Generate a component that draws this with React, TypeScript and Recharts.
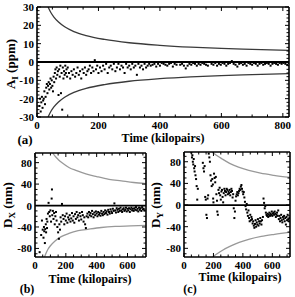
import { ComposedChart, XAxis, YAxis, Scatter, Line, ReferenceLine } from 'recharts'

// panel (a): A_I (ppm) vs time
const aPoints: [number, number][] = [
  [8, -24], [10, -20], [12, -27], [14, -22], [16, -19], [18, -25], [20, -21], [22, -20], [24, -16], [26, -23],
  [28, -19], [30, -14], [32, -12], [34, -17], [36, -13], [38, -11], [40, -15], [42, -12], [44, -9], [46, -14],
  [48, -10], [50, -13], [52, -16], [54, -8], [56, -11], [58, -6], [60, -4], [62, -9], [64, -3], [66, -7],
  [68, -5], [70, -18], [72, -4], [74, -8], [76, -2], [78, -17], [80, -6], [82, -26], [84, -3], [86, -9],
  [88, -5], [90, -7], [92, -2], [94, -6], [96, -4], [98, -8], [100, -3], [104, -6], [108, -9], [112, -5],
  [116, -7], [120, -4], [124, -8], [128, -6], [132, -3], [136, -7], [140, -5], [144, -9], [148, -4], [152, -6],
  [156, -3], [160, -7], [164, -5], [168, -4], [172, -2], [176, -6], [180, -3], [184, -5], [188, 1], [192, -4],
  [196, -2], [200, -6], [205, -3], [210, -5], [215, -2], [220, -4], [225, -1], [230, -6], [235, -3], [240, -2],
  [245, -4], [250, -1], [255, -5], [260, -3], [265, -1], [270, -4], [275, -2], [280, -3], [285, -6], [290, -1],
  [295, -3], [300, -2], [305, -4], [310, -1], [315, -3], [320, -2], [325, -7], [330, -1], [335, -3], [340, -2],
  [345, -4], [350, -1], [355, -3], [360, -2], [365, -1], [370, -2], [376, -1.5], [382, -1], [388, -2.5], [394, -1],
  [400, -2], [406, -0.5], [412, -1], [418, -1.5], [424, -2], [430, -1], [436, -0.5], [442, -2.5], [448, -1], [454, -1.5],
  [460, 0], [466, -1.5], [472, -1], [478, -2], [484, -3.5], [490, -2], [496, -1], [502, -1.5], [508, -0.5], [514, -1],
  [520, -2], [526, -1], [532, -1.5], [538, -0.5], [544, -1], [550, -1.5], [556, -2], [562, 0], [568, -1], [574, -1.5],
  [580, -0.5], [586, -2], [592, -1], [598, -1.5], [604, -0.5], [610, -1], [616, -2], [622, -1], [628, -0.5], [634, 0.5],
  [640, -1], [646, -1.5], [652, -2.5], [658, -1], [664, -0.5], [670, -1.5], [676, -1], [682, -2], [688, -0.5], [694, -1],
  [700, -1.5], [706, -0.5], [712, -1], [718, -2], [724, -1], [730, -0.5], [736, -1.5], [742, -1], [748, -0.5], [754, -1],
  [760, -2], [766, -1], [772, -0.5], [778, -1], [784, -1.5], [790, -0.5], [796, -1], [802, -0.5], [808, -1], [814, -1.5],
  [820, -0.5],
]
const aUpperT = [36, 45, 55, 70, 90, 120, 160, 220, 300, 400, 500, 600, 700, 825]
const aUpperY = [30, 27, 24.5, 21.8, 19.2, 16.6, 14.4, 12.3, 10.5, 9.1, 8.1, 7.4, 6.9, 6.3]
const aLowerT = [36, 45, 55, 70, 90, 120, 160, 220, 300, 400, 500, 600, 700, 825]
const aLowerY = [-30, -27, -24.5, -21.8, -19.2, -16.6, -14.4, -12.3, -10.5, -9.1, -8.1, -7.4, -6.9, -6.3]

// panel (b): D_X (nm)
const bPoints: [number, number][] = [
  [30, -87], [40, -55], [45, -28], [50, -45], [55, -60], [58, -40], [60, -48], [64, -70], [66, -44], [70, -35],
  [72, -50], [75, -25], [78, -42], [80, -30], [84, -15], [88, 5], [92, -12], [96, -20], [100, -9], [104, -30],
  [108, 13], [110, 30], [112, -18], [116, -10], [120, -25], [124, -14], [128, -35], [132, -20], [136, -12], [140, -28],
  [145, -40], [150, -50], [155, -62], [158, -35], [162, -45], [166, -22], [170, -30], [175, 3], [180, -18], [185, -25],
  [190, -35], [195, -20], [200, -28], [205, -15], [210, -32], [215, -22], [220, -26], [225, -18], [230, -30], [235, -24],
  [240, -14], [245, -28], [250, -20], [255, -32], [260, -16], [265, -25], [270, -12], [275, -22], [280, -18], [285, -28],
  [290, -14], [295, -20], [300, -26], [305, -12], [310, -18], [315, -30], [320, -22], [325, -35], [330, -42], [335, -20],
  [340, -15], [345, -22], [350, -12], [355, -18], [360, -14], [365, -20], [370, -10], [375, -16], [380, -22], [385, -13],
  [390, -18], [395, -11], [400, -15], [405, -20], [410, -12], [415, -17], [420, -14], [425, -19], [430, -10], [435, -15],
  [440, -18], [445, -12], [450, -16], [455, -9], [460, -14], [465, -11], [470, -17], [475, -8], [480, -12], [485, -15],
  [490, -7], [495, -11], [500, -14], [505, -6], [510, -10], [515, 4], [520, -9], [525, -13], [530, -5], [535, -8],
  [540, -12], [545, -6], [550, -10], [555, -4], [560, -9], [565, -12], [570, -7], [575, -5], [580, -10], [585, -8],
  [590, -4], [595, -11], [600, -6], [605, -9], [610, -5], [615, -12], [620, -7], [625, -4], [630, -9], [635, -6],
  [640, -10], [645, -5], [650, -8], [655, -3], [660, -9], [665, -6], [670, -11], [675, -4], [680, -8], [685, -5],
  [690, -10], [695, -3], [700, -7], [705, -6], [710, -9],
]
const bUpperT = [115, 130, 150, 180, 220, 270, 330, 400, 480, 560, 640, 720]
const bUpperY = [98, 92, 86, 79, 71, 65, 59, 54, 49, 46, 43, 41]
const bLowerT = [62, 70, 85, 100, 130, 170, 220, 280, 350, 430, 520, 620, 720]
const bLowerY = [-96, -90, -81, -75, -66, -58, -52, -47, -44, -41, -39, -38, -37]

// panel (c): D_Y (nm)
const cPoints: [number, number][] = [
  [50, 97], [54, 88], [57, 92], [60, 80], [63, 75], [66, 85], [69, 68], [72, 62], [75, 72], [78, 55],
  [82, 48], [86, 35], [90, 10], [94, 30], [128, 78], [132, 68], [136, 62], [140, 72], [144, 15], [148, 10],
  [152, -18], [156, -24], [160, 12], [164, 18], [168, 95], [172, 88], [176, 80], [180, 55], [184, 45], [188, 35],
  [192, 48], [196, 38], [198, 12], [200, 5], [204, 58], [208, 50], [212, 42], [216, 52], [220, 20], [224, 8],
  [226, -12], [230, -18], [234, 28], [238, 22], [242, 32], [246, 18], [250, 10], [254, 25], [258, 28], [262, 15],
  [266, 5], [270, 22], [274, 30], [278, 26], [282, 18], [286, 24], [290, 30], [294, 28], [298, 20], [302, 25],
  [306, 22], [310, 28], [314, 18], [318, 24], [322, 30], [326, 26], [330, 14], [334, 20], [338, -6], [342, -24],
  [346, -12], [350, 8], [354, 16], [358, 20], [362, 24], [366, 18], [370, 22], [374, 26], [378, 30], [382, 28],
  [386, 34], [390, 37], [394, 30], [398, 25], [402, 20], [406, 24], [410, 14], [414, 6], [418, -2], [422, -8],
  [426, 2], [430, -14], [434, -20], [438, -10], [442, -24], [446, -30], [450, -18], [454, -28], [458, -22], [462, -26],
  [466, -34], [470, -30], [474, -38], [478, -42], [482, -35], [486, -28], [490, -40], [494, -32], [498, -36], [502, -26],
  [506, -38], [510, -30], [514, -34], [518, -24], [522, -30], [526, -36], [530, -28], [536, -22], [540, 12], [544, 4],
  [548, -6], [552, -2], [556, -14], [560, -18], [564, -20], [568, -16], [572, -22], [576, -18], [580, -14], [584, -20],
  [588, -16], [592, -18], [596, -12], [600, -20], [604, -16], [608, -14], [612, -18], [616, -12], [620, -16], [624, -22],
  [628, -18], [632, -14], [636, -20], [640, -10], [644, -26], [648, -20], [652, -30], [656, -24], [660, -18], [664, -28],
  [668, -32], [672, -22], [676, -26], [680, -20], [684, -30], [688, -24], [692, -36], [696, -22], [700, -28], [704, -18],
  [708, -26], [712, -30], [716, -24],
]
const cUpperT = [190, 220, 260, 310, 370, 440, 520, 610, 720]
const cUpperY = [98, 92, 85, 77, 70, 64, 59, 55, 51]
const cLowerT = [195, 225, 265, 315, 375, 445, 525, 615, 720]
const cLowerY = [-96, -90, -83, -76, -69, -63, -58, -54, -50]

const aXMajor = [0, 200, 400, 600, 800]
const aYMajor = [-30, -20, -10, 0, 10, 20, 30]
const bcXMajor = [0, 200, 400, 600]
const bcYMajor = [-80, -40, 0, 40, 80]

const FONT = '"Liberation Serif", "DejaVu Serif", serif'

const range = (from: number, to: number, step: number) => {
  const out: number[] = []
  for (let v = from; v <= to + 1e-9; v += step) out.push(Math.round(v * 100) / 100)
  return out
}

const toXY = (t: number[], y: number[]) => t.map((v, i) => ({ t: v, y: y[i] }))

type Side = 'bottom' | 'top' | 'left' | 'right'

function Tick(props: any) {
  const { x, y, payload, side, major, showLabel } = props
  const v = payload.value
  const isMajor = major.includes(v)
  const len = isMajor ? 4 : 2.5
  let line
  if (side === 'bottom') line = <line x1={x} y1={y} x2={x} y2={y - len} stroke="#000" strokeWidth={1} />
  else if (side === 'top') line = <line x1={x} y1={y} x2={x} y2={y + len} stroke="#000" strokeWidth={1} />
  else if (side === 'left') line = <line x1={x} y1={y} x2={x + len} y2={y} stroke="#000" strokeWidth={1} />
  else line = <line x1={x} y1={y} x2={x - len} y2={y} stroke="#000" strokeWidth={1} />
  return (
    <g>
      {line}
      {showLabel && isMajor && side === 'bottom' && (
        <text x={x} y={y + 12} textAnchor="middle" fontSize={11} fontWeight="bold" fontFamily={FONT} fill="#000">
          {v}
        </text>
      )}
      {showLabel && isMajor && side === 'left' && (
        <text x={x - 3} y={y + 4} textAnchor="end" fontSize={11} fontWeight="bold" fontFamily={FONT} fill="#000">
          {v}
        </text>
      )}
    </g>
  )
}

type PanelProps = {
  width: number
  height: number
  margin: { top: number; right: number; bottom: number; left: number }
  xDomain: [number, number]
  yDomain: [number, number]
  xTicks: number[]
  yTicks: number[]
  xMajor: number[]
  yMajor: number[]
  points: [number, number][]
  upper: { t: number; y: number }[]
  lower: { t: number; y: number }[]
  curveColor: string
}

function Panel(p: PanelProps) {
  const axisLine = { stroke: '#000', strokeWidth: 1.6 }
  const pts = p.points.map(([t, y]) => ({ t, y }))
  const axisCommon = {
    type: 'number' as const,
    allowDataOverflow: true,
    tickLine: false,
    axisLine,
    tickSize: 0,
    tickMargin: 0,
    interval: 0 as const,
  }
  const mk = (side: Side, major: number[], label: boolean) => (tp: any) => (
    <Tick {...tp} side={side} major={major} showLabel={label} />
  )
  // axes take 1px each, so the margins are 1px smaller than the frame offsets
  const m = { top: p.margin.top - 1, right: p.margin.right - 1, bottom: p.margin.bottom - 1, left: p.margin.left - 1 }
  return (
    <ComposedChart width={p.width} height={p.height} margin={m}>
      <XAxis {...axisCommon} xAxisId="b" dataKey="t" orientation="bottom" height={1} domain={p.xDomain} ticks={p.xTicks} tick={mk('bottom', p.xMajor, true)} />
      <XAxis {...axisCommon} xAxisId="top" dataKey="t" orientation="top" height={1} domain={p.xDomain} ticks={p.xTicks} tick={mk('top', p.xMajor, false)} />
      <YAxis {...axisCommon} yAxisId="l" dataKey="y" orientation="left" width={1} domain={p.yDomain} ticks={p.yTicks} tick={mk('left', p.yMajor, true)} />
      <YAxis {...axisCommon} yAxisId="r" dataKey="y" orientation="right" width={1} domain={p.yDomain} ticks={p.yTicks} tick={mk('right', p.yMajor, false)} />
      <ReferenceLine xAxisId="b" yAxisId="l" y={0} stroke="#000" strokeWidth={1.8} />
      <Line xAxisId="b" yAxisId="l" data={p.upper} dataKey="y" type="monotone" stroke={p.curveColor} strokeWidth={1.3} dot={false} isAnimationActive={false} />
      <Line xAxisId="b" yAxisId="l" data={p.lower} dataKey="y" type="monotone" stroke={p.curveColor} strokeWidth={1.3} dot={false} isAnimationActive={false} />
      <Scatter
        xAxisId="b"
        yAxisId="l"
        data={pts}
        isAnimationActive={false}
        shape={(s: any) => <rect x={s.cx - 1} y={s.cy - 1} width={2} height={2} fill="#000" />}
      />
    </ComposedChart>
  )
}

const txt = (left: number, top: number, size: number, rotate = false): React.CSSProperties => ({
  position: 'absolute',
  left,
  top,
  transform: `translate(-50%, -50%)${rotate ? ' rotate(-90deg)' : ''}`,
  fontFamily: FONT,
  fontWeight: 'bold',
  fontSize: size,
  whiteSpace: 'nowrap',
  lineHeight: 1,
})

export default function App() {
  return (
    <div style={{ position: 'absolute', left: 0, top: 0, width: 295, height: 297, background: '#fff', overflow: 'hidden' }}>
      <div style={{ position: 'absolute', left: 0, top: 0 }}>
        <Panel
          width={295}
          height={145}
          margin={{ top: 7, right: 6, bottom: 28, left: 37 }}
          xDomain={[0, 820]}
          yDomain={[-30, 30]}
          xTicks={range(0, 800, 50)}
          yTicks={range(-30, 30, 2)}
          xMajor={aXMajor}
          yMajor={aYMajor}
          points={aPoints}
          upper={toXY(aUpperT, aUpperY)}
          lower={toXY(aLowerT, aLowerY)}
          curveColor="#3a3a3a"
        />
      </div>
      <div style={{ position: 'absolute', left: 0, top: 140 }}>
        <Panel
          width={150}
          height={157}
          margin={{ top: 13, right: 4, bottom: 40, left: 35 }}
          xDomain={[0, 720]}
          yDomain={[-96, 98]}
          xTicks={range(0, 700, 50)}
          yTicks={range(-90, 90, 10)}
          xMajor={bcXMajor}
          yMajor={bcYMajor}
          points={bPoints}
          upper={toXY(bUpperT, bUpperY)}
          lower={toXY(bLowerT, bLowerY)}
          curveColor="#999"
        />
      </div>
      <div style={{ position: 'absolute', left: 150, top: 140 }}>
        <Panel
          width={145}
          height={157}
          margin={{ top: 12, right: 5, bottom: 40, left: 34 }}
          xDomain={[0, 720]}
          yDomain={[-96, 98]}
          xTicks={range(0, 700, 50)}
          yTicks={range(-90, 90, 10)}
          xMajor={bcXMajor}
          yMajor={bcYMajor}
          points={cPoints}
          upper={toXY(cUpperT, cUpperY)}
          lower={toXY(cLowerT, cLowerY)}
          curveColor="#999"
        />
      </div>

      <div style={txt(12, 64, 13, true)}>
        A<sub style={{ fontSize: 9 }}>I</sub> (ppm)
      </div>
      <div style={txt(163, 138, 12)}>Time (kilopairs)</div>
      <div style={txt(25, 139, 13)}>(a)</div>

      <div style={txt(9, 205, 13, true)}>
        D<sub style={{ fontSize: 9 }}>X</sub> (nm)
      </div>
      <div style={txt(90, 279, 12)}>Time (kilopairs)</div>
      <div style={txt(27, 289, 12)}>(b)</div>

      <div style={txt(157, 205, 13, true)}>
        D<sub style={{ fontSize: 9 }}>Y</sub> (nm)
      </div>
      <div style={txt(240, 277, 12)}>Time (kilopairs)</div>
      <div style={txt(190, 289, 12)}>(c)</div>
    </div>
  )
}
